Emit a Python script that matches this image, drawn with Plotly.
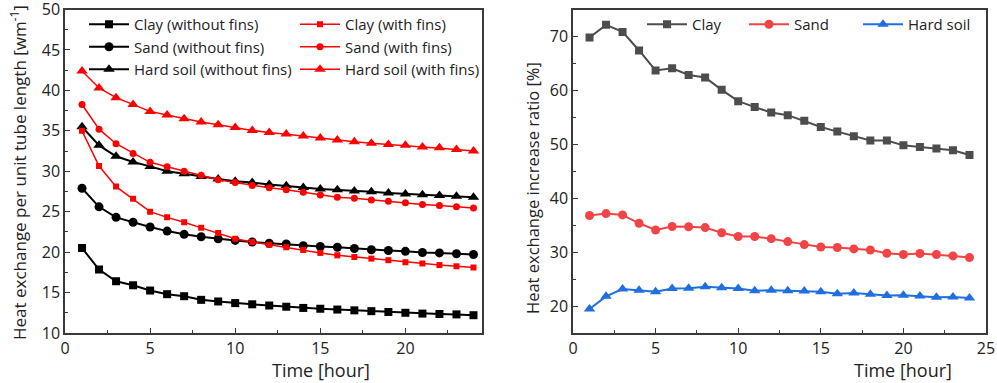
import plotly.graph_objects as go

hours = list(range(1, 25))

clay_without = [20.5, 17.85, 16.4, 15.9, 15.25, 14.8, 14.55, 14.1, 13.9, 13.7, 13.55, 13.4,
                13.25, 13.1, 13.0, 12.9, 12.8, 12.7, 12.6, 12.5, 12.4, 12.35, 12.3, 12.2]
sand_without = [27.9, 25.6, 24.3, 23.7, 23.1, 22.6, 22.2, 21.9, 21.65, 21.45, 21.25, 21.1,
                21.0, 20.8, 20.7, 20.6, 20.45, 20.3, 20.2, 20.1, 19.95, 19.9, 19.8, 19.7]
hard_without = [35.5, 33.2, 31.85, 31.15, 30.6, 30.0, 29.7, 29.35, 29.05, 28.75, 28.6, 28.35,
                28.2, 28.0, 27.8, 27.7, 27.55, 27.45, 27.3, 27.2, 27.1, 27.0, 26.9, 26.8]
clay_with = [35.0, 30.65, 28.1, 26.6, 25.0, 24.3, 23.7, 23.0, 22.35, 21.65, 21.25, 20.9,
             20.6, 20.25, 19.9, 19.6, 19.4, 19.2, 19.0, 18.75, 18.6, 18.4, 18.25, 18.1]
sand_with = [38.25, 35.2, 33.4, 32.2, 31.1, 30.55, 30.0, 29.5, 28.95, 28.6, 28.25, 27.95,
             27.7, 27.4, 27.05, 26.8, 26.65, 26.45, 26.3, 26.1, 25.9, 25.75, 25.6, 25.45]
hard_with = [42.4, 40.3, 39.1, 38.25, 37.4, 36.95, 36.5, 36.1, 35.75, 35.4, 35.05, 34.8,
             34.6, 34.35, 34.1, 33.85, 33.65, 33.45, 33.3, 33.2, 33.0, 32.9, 32.7, 32.5]

ratio_clay = [69.8, 72.15, 70.85, 67.4, 63.7, 64.1, 62.85, 62.4, 60.1, 58.0, 56.9, 55.9,
              55.4, 54.35, 53.2, 52.35, 51.5, 50.7, 50.7, 49.8, 49.5, 49.2, 48.9, 48.0]
ratio_sand = [36.8, 37.15, 36.9, 35.35, 34.1, 34.75, 34.7, 34.55, 33.6, 32.9, 32.9, 32.5,
              31.95, 31.4, 30.95, 30.85, 30.6, 30.4, 29.8, 29.55, 29.75, 29.55, 29.3, 29.0]
ratio_hard = [19.45, 21.8, 23.15, 22.95, 22.65, 23.25, 23.3, 23.6, 23.4, 23.25, 22.85, 22.95,
              22.85, 22.8, 22.65, 22.3, 22.4, 22.2, 21.95, 22.0, 21.85, 21.65, 21.7, 21.5]

FONT = "Open Sans"
W, H = 997, 383

fig = go.Figure()

def add(x, y, name, color, symbol, size, lw, xa, ya, legend):
    fig.add_trace(go.Scatter(
        x=x, y=y, name=name, mode="lines+markers",
        line=dict(color=color, width=lw),
        marker=dict(color=color, symbol=symbol, size=size),
        xaxis=xa, yaxis=ya, legend=legend))

add(hours, clay_without, "Clay (without fins)", "black", "square", 8, 2, "x", "y", "legend")
add(hours, sand_without, "Sand (without fins)", "black", "circle", 9, 2, "x", "y", "legend")
add(hours, hard_without, "Hard soil (without fins)", "black", "triangle-up", 10, 2, "x", "y", "legend")
add(hours, clay_with, "Clay (with fins)", "#ff0000", "square", 6, 1.5, "x", "y", "legend2")
add(hours, sand_with, "Sand (with fins)", "#ff0000", "circle", 7, 1.5, "x", "y", "legend2")
add(hours, hard_with, "Hard soil (with fins)", "#ff0000", "triangle-up", 10, 1.5, "x", "y", "legend2")

add(hours, ratio_clay, "Clay", "#4d4d4d", "square", 8, 2, "x2", "y2", "legend3")
add(hours, ratio_sand, "Sand", "#f24444", "circle", 9, 2, "x2", "y2", "legend4")
add(hours, ratio_hard, "Hard soil", "#1f6fe0", "triangle-up", 10, 2, "x2", "y2", "legend5")

axis_common = dict(showline=True, linecolor="#3a3a3a", linewidth=1.5, mirror=True,
                   ticks="inside", ticklen=5, tickwidth=1, tickcolor="#3a3a3a",
                   showgrid=False, zeroline=False, automargin=False,
                   ticklabeloverflow="allow",
                   tickfont=dict(family=FONT, size=16, color="#222"),
                   minor=dict(ticks="inside", ticklen=3, tickwidth=1, tickcolor="#3a3a3a"))

ydom = [1 - 333 / H, 1 - 9.5 / H]
legfont = dict(family=FONT, size=15, color="#222")

def leg(xpx, ypx):
    return dict(x=xpx / W, y=1 - ypx / H, xanchor="left", yanchor="top",
                bgcolor="rgba(255,255,255,0)", font=legfont,
                itemwidth=40, tracegroupgap=0)

fig.update_layout(
    width=W, height=H,
    margin=dict(l=0, r=0, t=0, b=0, pad=0, autoexpand=False),
    paper_bgcolor="white", plot_bgcolor="white",
    font=dict(family=FONT, color="#222"),
    xaxis=dict(domain=[65 / W, 482 / W], range=[0, 24.5], dtick=5,
               minor_dtick=2.5, anchor="y", **axis_common),
    yaxis=dict(domain=ydom, range=[10, 50], dtick=5, minor_dtick=2.5,
               anchor="x", **axis_common),
    xaxis2=dict(domain=[573 / W, 986 / W], range=[0, 25], dtick=5,
                minor_dtick=2.5, anchor="y2", **axis_common),
    yaxis2=dict(domain=ydom, range=[15, 75], dtick=10, minor_dtick=5,
                anchor="x2", **axis_common),
    legend=leg(84, 8),
    legend2=leg(295, 8),
    legend3=leg(642, 8),
    legend4=leg(744, 8),
    legend5=leg(858, 8),
    showlegend=True,
)

fig.add_annotation(text="Heat exchange per unit tube length [wm<sup>-1</sup>]",
                   xref="paper", yref="paper", x=19 / W, y=1 - 173 / H,
                   xanchor="center", yanchor="middle",
                   textangle=-90, showarrow=False, font=dict(family=FONT, size=17, color="#222"))
fig.add_annotation(text="Heat exchange increase ratio [%]",
                   xref="paper", yref="paper", x=532 / W, y=1 - 188 / H,
                   xanchor="center", yanchor="middle",
                   textangle=-90, showarrow=False, font=dict(family=FONT, size=16.5, color="#222"))
for xc in (321, 903):
    fig.add_annotation(text="Time [hour]", xref="paper", yref="paper",
                       x=xc / W, y=1 - 370 / H, xanchor="center", yanchor="middle",
                       showarrow=False, font=dict(family=FONT, size=18, color="#222"))

fig.write_html("out.html", config={"displayModeBar": False},
               post_script="document.body.style.margin='0';document.body.style.overflow='hidden';")
